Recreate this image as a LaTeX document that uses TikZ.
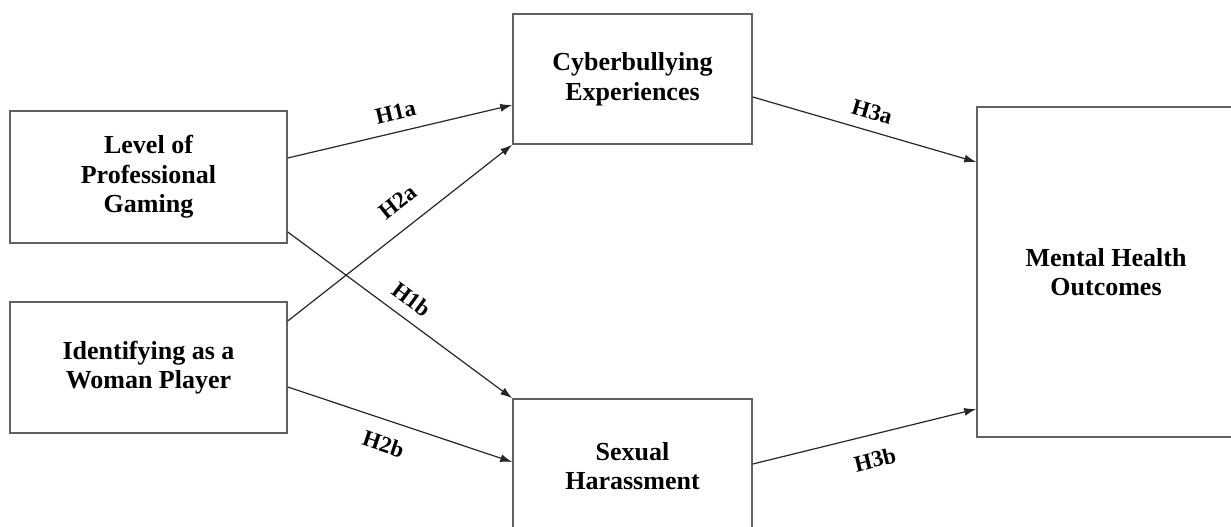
\documentclass[tikz,border=0pt]{standalone}
\usepackage{fontspec}
\setmainfont{Liberation Serif}
\usetikzlibrary{arrows.meta}
\begin{document}
\begin{tikzpicture}[x=1pt,y=-1pt,
  box/.style={draw=black!62, line width=1.5pt, rectangle, align=center, inner sep=0pt,
    font=\fontsize{26}{29.5}\selectfont\bfseries},
  link/.style={draw=black!85, line width=1.2pt, -{Latex[length=12pt,width=8pt]}},
  hyp/.style={sloped, inner sep=0pt, font=\fontsize{23}{26}\selectfont\bfseries}]
\useasboundingbox (0,0) rectangle (1231,527);
\clip (0,0) rectangle (1231,527);
\fill[white] (0,0) rectangle (1231,527);
\node[box, minimum width=277pt, minimum height=132pt] (lvl) at (148.5,177) {Level of\\Professional\\Gaming};
\node[box, minimum width=277pt, minimum height=131pt] (wom) at (148.5,367.5) {Identifying as a\\Woman Player};
\node[box, minimum width=239pt, minimum height=130pt] (cyb) at (632.5,79) {Cyberbullying\\Experiences};
\node[box, minimum width=239pt, minimum height=134pt] (sex) at (632.5,466) {Sexual\\Harassment};
\node[box, minimum width=258pt, minimum height=330pt] (men) at (1106,272) {Mental Health\\Outcomes};
\draw[link] ([yshift=19pt]lvl.east) -- node[hyp, pos=0.5, above=11pt] {H1a} ([yshift=-26pt]cyb.west);
\draw[link] ([yshift=46.5pt]wom.east) -- node[hyp, pos=0.56, above=17pt] {H2a} (cyb.south west);
\draw[link] ([yshift=-55pt]lvl.east) -- node[hyp, pos=0.5, above=11pt] {H1b} (sex.north west);
\draw[link] ([yshift=-19.5pt]wom.east) -- node[hyp, pos=0.46, below=15pt] {H2b} ([yshift=4pt]sex.west);
\draw[link] ([yshift=-18pt]cyb.east) -- node[hyp, pos=0.51, above=11pt] {H3a} ([yshift=110pt]men.west);
\draw[link] ([yshift=2pt]sex.east) -- node[hyp, pos=0.52, below=16pt] {H3b} ([yshift=-137pt]men.west);
\end{tikzpicture}
\end{document}
